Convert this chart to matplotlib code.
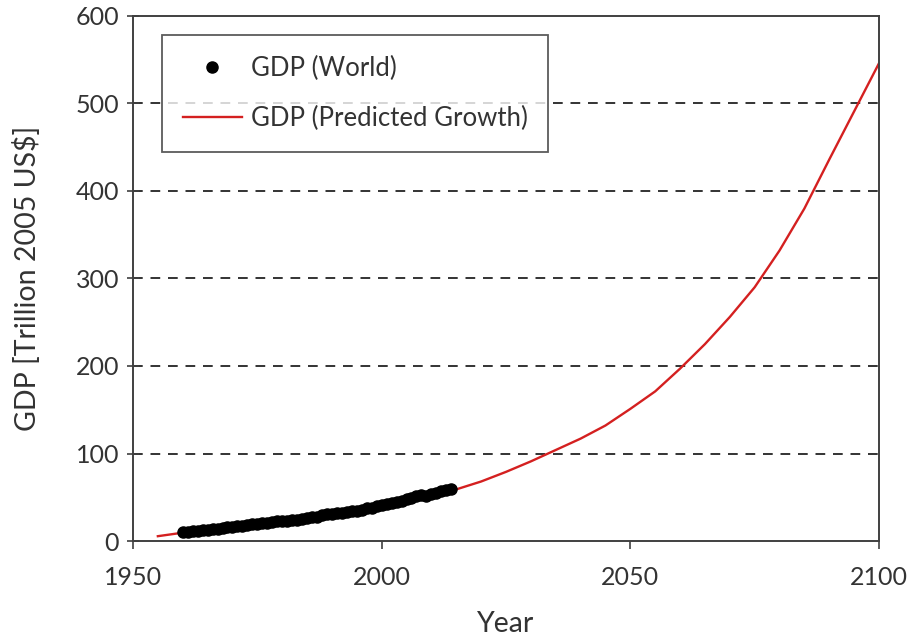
import numpy as np
import matplotlib.pyplot as plt

plt.rcParams['font.family'] = ['Lato', 'DejaVu Sans']

# observed world GDP (trillion 2005 US$)
years_obs = list(range(1960, 2015))
gdp_obs = [10.0, 10.4, 10.9, 11.5, 12.2, 12.8, 13.5, 14.0, 14.7, 15.5,
           16.1, 16.7, 17.6, 18.7, 19.0, 19.2, 20.1, 20.9, 21.8, 22.6,
           23.0, 23.4, 23.5, 24.2, 25.3, 26.2, 27.0, 28.0, 29.3, 30.3,
           31.2, 31.6, 32.2, 32.7, 33.8, 34.8, 36.0, 37.3, 38.2, 39.5,
           41.3, 42.0, 42.9, 44.2, 46.0, 47.7, 49.7, 51.7, 52.5, 51.5,
           53.7, 55.3, 56.6, 58.0, 59.5]

# predicted growth curve
years_pred = list(range(1955, 2101, 5))
gdp_pred = [5.5, 9.5, 12.5, 16, 19.5, 23, 26.5, 31, 35, 41, 47, 53, 59, 68, 79,
            91, 104, 117, 132, 151, 171, 197, 225, 256, 290, 332, 380, 436, 491, 546]

fig = plt.figure(figsize=(9.09, 6.37), dpi=100)
ax = fig.add_axes([0.1463, 0.1507, 0.967 - 0.1463, 0.9749 - 0.1507])

for yv in [100, 200, 300, 400, 500]:
    ax.axhline(yv, color='#333333', lw=1.4, ls=(0, (5, 4)), zorder=1)

ax.plot(years_pred, gdp_pred, color='#d42020', lw=1.7, zorder=2,
        label='GDP (Predicted Growth)')
ax.plot(years_obs, gdp_obs, 'o', color='black', ms=8, zorder=3,
        label='GDP (World)')

ax.set_xlim(1950, 2100)
ax.set_ylim(0, 600)
ax.set_xticks([1950, 2000, 2050, 2100])
ax.set_yticks(range(0, 601, 100))
ax.tick_params(axis='y', direction='inout', length=8, width=1.2, colors='#404040',
               labelcolor='#333333', labelsize=18, pad=6)
ax.tick_params(axis='x', direction='out', length=6, width=1.2, colors='#404040',
               labelcolor='#333333', labelsize=18, pad=12)
for s in ax.spines.values():
    s.set_color('#404040')
    s.set_linewidth(1.4)

ax.set_xlabel('Year', fontsize=20.5, color='#333333', labelpad=16)
ax.set_ylabel('GDP [Trillion 2005 US$]', fontsize=20.5, color='#333333', labelpad=25)

h, l = ax.get_legend_handles_labels()
leg = ax.legend(h[::-1], l[::-1], loc='upper left', bbox_to_anchor=(0.039, 0.964),
                fontsize=18.5, frameon=True, fancybox=False, borderpad=0.8,
                labelspacing=1.0, handlelength=2.3, handletextpad=0.35,
                borderaxespad=0)
leg.get_frame().set_edgecolor('#333333')
leg.get_frame().set_linewidth(1.3)
for t in leg.get_texts():
    t.set_color('#333333')

fig.savefig('out.png', dpi=100)
